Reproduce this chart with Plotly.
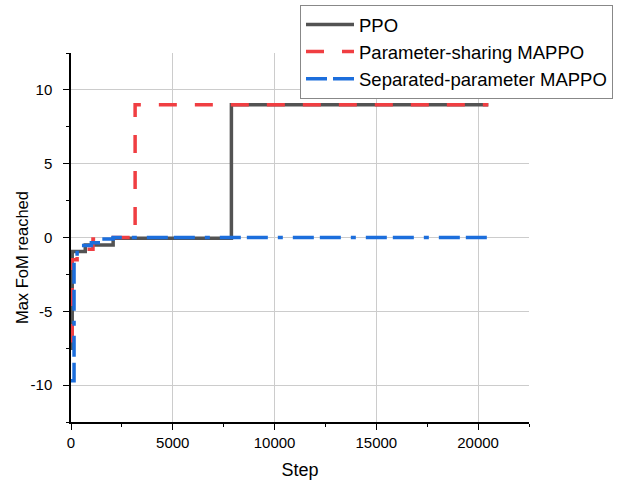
import plotly.graph_objects as go

ppo_x = [0, 60, 700, 2070, 7880, 20500]
ppo_y = [-7.5, -0.95, -0.5, -0.05, 9.0, 9.0]

ps_x = [0, 60, 300, 1080, 1770, 3150, 20500]
ps_y = [-7.0, -1.5, -0.8, -0.1, 0.0, 9.0, 9.0]

sp_x = [0, 150, 300, 1000, 1480, 2070, 20500]
sp_y = [-9.7, -1.3, -0.55, -0.35, -0.1, 0.0, 0.0]

x_ticks = [0, 5000, 10000, 15000, 20000]
x_labels = ["0", "5000", "10000", "15000", "20000"]
y_ticks = [-10, -5, 0, 5, 10]
y_labels = ["-10", "-5", "0", "5", "10"]

fig = go.Figure()
fig.add_trace(go.Scatter(x=ppo_x, y=ppo_y, mode="lines", name="PPO",
                         line=dict(color="#535353", width=3.5, shape="hv")))
fig.add_trace(go.Scatter(x=ps_x, y=ps_y, mode="lines", name="Parameter-sharing MAPPO",
                         line=dict(color="#F03E42", width=3.5, shape="hv", dash="18px,18px")))
fig.add_trace(go.Scatter(x=sp_x, y=sp_y, mode="lines", name="Separated-parameter MAPPO",
                         line=dict(color="#1C6EDC", width=3.5, shape="hv",
                                   dash="21px,6px,21px,10px,5px,10px")))

font = "Liberation Sans, Arial, sans-serif"
fig.update_layout(
    width=636, height=485,
    margin=dict(l=71, r=107, t=53, b=63, autoexpand=False),
    paper_bgcolor="white", plot_bgcolor="white",
    font=dict(family=font, color="black", size=15),
    showlegend=True,
    legend=dict(xref="container", yref="container", x=300/636, y=1 - 5/485,
                xanchor="left", yanchor="top",
                bordercolor="#888888", borderwidth=1, bgcolor="white",
                font=dict(size=18.5, family=font), itemwidth=48,
                tracegroupgap=0),
    xaxis=dict(range=[0, 22500], tickvals=x_ticks, ticktext=x_labels,
               showgrid=True, gridcolor="#cccccc", gridwidth=1,
               showline=True, linecolor="black", linewidth=1.5,
               ticks="outside", ticklen=6, tickcolor="black",
               minor=dict(ticks="outside", ticklen=3, dtick=2500, tickcolor="black", showgrid=False),
               zeroline=False, tickfont=dict(size=15),
               title=dict(text="Step", font=dict(size=18), standoff=14)),
    yaxis=dict(range=[-12.5, 12.5], tickvals=y_ticks, ticktext=y_labels,
               showgrid=True, gridcolor="#cccccc", gridwidth=1,
               showline=True, linecolor="black", linewidth=1.5,
               ticks="outside", ticklen=6, tickcolor="black", ticklabelstandoff=8,
               minor=dict(ticks="outside", ticklen=3, dtick=2.5, tickcolor="black", showgrid=False),
               zeroline=False, tickfont=dict(size=15)),
    annotations=[dict(text="Max FoM reached", xref="paper", yref="paper",
                      x=-0.107, y=0.447, xanchor="center", yanchor="middle",
                      textangle=-90, showarrow=False, font=dict(size=16.5, family=font))],
)
fig.write_html("out.html", config={"displayModeBar": False},
               post_script="document.body.style.margin='0';")
